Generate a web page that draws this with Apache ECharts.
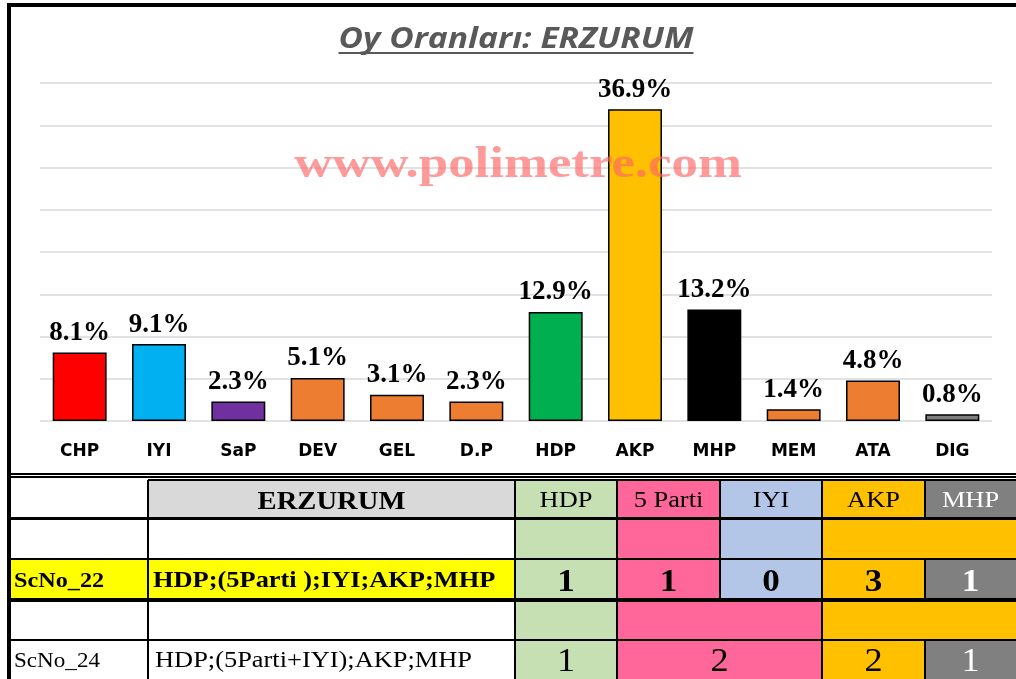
<!DOCTYPE html>
<html>
<head>
<meta charset="utf-8">
<script src="https://cdn.jsdelivr.net/npm/echarts@6/dist/echarts.min.js"></script>
<style>
  html, body { margin: 0; padding: 0; background: #fff; }
  #main { width: 1016px; height: 679px; }
</style>
</head>
<body>
<div id="main"></div>
<script>
// bar chart data
var parties = ['CHP', 'IYI', 'SaP', 'DEV', 'GEL', 'D.P', 'HDP', 'AKP', 'MHP', 'MEM', 'ATA', 'DIG'];
var shares = [8.1, 9.1, 2.3, 5.1, 3.1, 2.3, 12.9, 36.9, 13.2, 1.4, 4.8, 0.8];
var barColors = ['#ff0000', '#00b0f0', '#7030a0', '#ed7d31', '#ed7d31', '#ed7d31',
                 '#00b050', '#ffc000', '#000000', '#ed7d31', '#ed7d31', '#7f7f7f'];

// seat table data
var tableCity = 'ERZURUM';
var tableHeads = ['HDP', '5 Parti', 'IYI', 'AKP', 'MHP'];
var headColors = ['#c6e0b4', '#ff6699', '#b4c6e7', '#ffc000', '#808080'];
var sc22Name = 'ScNo_22';
var sc22Formula = 'HDP;(5Parti );IYI;AKP;MHP';
var sc22Seats = [1, 1, 0, 3, 1];
var sc24Name = 'ScNo_24';
var sc24Formula = 'HDP;(5Parti+IYI);AKP;MHP';
var sc24Seats = [1, 2, 2, 1];
var sc24Spans = [1, 2, 1, 1];

var chart = echarts.init(document.getElementById('main'));

// table layout
var colX = [11, 148, 515, 617, 720, 822, 925, 1016];
var rowY = [480, 518, 559, 600, 640, 679];
var g = [];

function box(x, y, w, h, fill, z) {
    g.push({ type: 'rect', silent: true, z: z || 1, shape: { x: x, y: y, width: w, height: h }, style: { fill: fill } });
}
function txt(s, x, y, font, color, align, sx) {
    g.push({
        type: 'text', silent: true, z: 5, x: x, y: y, scaleX: sx || 1.1,
        style: { text: s, x: 0, y: 0, font: font, fill: color || '#000', align: align || 'center', verticalAlign: 'middle' }
    });
}
function cellRow(r, fills) {
    // fills: list of [startCol, endCol, color]
    fills.forEach(function (f) {
        box(colX[f[0]], rowY[r], colX[f[1]] - colX[f[0]], rowY[r + 1] - rowY[r], f[2]);
    });
}

// fills
cellRow(0, [[1, 2, '#d9d9d9']].concat(headColors.map(function (c, i) { return [i + 2, i + 3, c]; })));
cellRow(1, [[2, 3, headColors[0]], [3, 4, headColors[1]], [4, 5, headColors[2]], [5, 7, headColors[3]]]);
cellRow(2, [[0, 2, '#ffff00']].concat(headColors.map(function (c, i) { return [i + 2, i + 3, c]; })));
cellRow(3, [[2, 3, headColors[0]], [3, 5, headColors[1]], [5, 7, headColors[3]]]);
var c0 = 2;
sc24Spans.forEach(function (s, i) {
    var col = [headColors[0], headColors[1], headColors[3], headColors[4]][i];
    cellRow(4, [[c0, c0 + s, col]]);
    c0 += s;
});

// grid lines of the table
box(colX[1], rowY[0] - 1, 1016 - colX[1], 2, '#000', 3);
box(colX[0], rowY[1] - 1, 1016 - colX[0], 3, '#000', 3);
box(colX[0], rowY[2] - 1, 1016 - colX[0], 2, '#000', 3);
box(colX[0], rowY[3] - 2, 1016 - colX[0], 4, '#000', 3);
box(colX[0], rowY[4] - 1, 1016 - colX[0], 2, '#000', 3);
[1, 2, 3, 5].forEach(function (c) { box(colX[c] - 1, rowY[0], 2, 679 - rowY[0], '#000', 3); });
box(colX[4] - 1, rowY[0], 2, rowY[3] - rowY[0], '#000', 3);
box(colX[6] - 1, rowY[0], 2, rowY[1] - rowY[0], '#000', 3);
box(colX[6] - 1, rowY[2], 2, rowY[3] - rowY[2], '#000', 3);
box(colX[6] - 1, rowY[4], 2, rowY[5] - rowY[4], '#000', 3);

// frame
box(7, 3, 1009, 4, '#000', 3);
box(7, 3, 4, 676, '#000', 3);
box(11, 473, 1005, 2, '#000', 3);
box(11, 476, 1005, 2, '#000', 3);

// table texts
var serif = '"Liberation Serif", "Times New Roman", serif';
txt(tableCity, (colX[1] + colX[2]) / 2, 502, 'bold 26px ' + serif);
tableHeads.forEach(function (h, i) {
    txt(h, (colX[i + 2] + colX[i + 3]) / 2, 501, '24px ' + serif, i === 4 ? '#fff' : '#000');
});
txt(sc22Name, 14, 581, 'bold 22px ' + serif, '#000', 'left');
txt(sc22Formula, 153, 581, 'bold 24px ' + serif, '#000', 'left');
sc22Seats.forEach(function (v, i) {
    txt(String(v), (colX[i + 2] + colX[i + 3]) / 2, 583, 'bold 32px ' + serif, i === 4 ? '#fff' : '#000');
});
txt(sc24Name, 14, 661, '21px ' + serif, '#000', 'left');
txt(sc24Formula, 155, 661, '24px ' + serif, '#000', 'left');
c0 = 2;
sc24Spans.forEach(function (v, i) {
    var s = sc24Spans[i];
    txt(String(sc24Seats[i]), (colX[c0] + colX[c0 + s]) / 2, 662, '33px ' + serif, i === 3 ? '#fff' : '#000');
    c0 += s;
});

// title with underline
var titleText = 'Oy Oranları: ERZURUM';
var titleFont = 'italic bold 29px "Open Sans", sans-serif';
var ctx = document.createElement('canvas').getContext('2d');
ctx.font = titleFont;
var tw = ctx.measureText(titleText).width;
var tsx = 355 / tw;
txt(titleText, 516, 40, titleFont, '#595959', 'center', tsx);
box(516 - 355 / 2, 52, 355, 2, '#595959', 3);

// watermark
g.push({
    type: 'text', silent: true, z: 50, x: 518, y: 166, scaleX: 1.2,
    style: { text: 'www.polimetre.com', x: 0, y: 0, font: 'bold 44px ' + serif,
             fill: 'rgba(255,102,102,0.66)', align: 'center', verticalAlign: 'middle' }
});

var option = {
    backgroundColor: '#fff',
    animation: false,
    grid: { left: 40, right: 24, top: 83, bottom: 258 },
    xAxis: {
        type: 'category',
        data: parties,
        axisLine: { show: false },
        axisTick: { show: false },
        axisLabel: { margin: 22, color: '#000', fontWeight: 'bold', fontSize: 17, fontFamily: 'DejaVu Sans' }
    },
    yAxis: {
        type: 'value',
        min: 0,
        max: 40,
        interval: 5,
        axisLabel: { show: false },
        axisLine: { show: false },
        splitLine: { lineStyle: { color: '#d9d9d9', width: 1.5 } }
    },
    series: [{
        type: 'bar',
        data: shares.map(function (v, i) { return { value: v, itemStyle: { color: barColors[i] } }; }),
        barCategoryGap: '32%',
        itemStyle: { borderColor: '#000', borderWidth: 1.5 },
        label: {
            show: true,
            position: 'top',
            distance: 6,
            color: '#000',
            fontWeight: 'bold',
            fontSize: 27,
            fontFamily: serif,
            formatter: function (p) { return p.value.toFixed(1) + '%'; }
        }
    }],
    graphic: { elements: g }
};
chart.setOption(option);
</script>
</body>
</html>
